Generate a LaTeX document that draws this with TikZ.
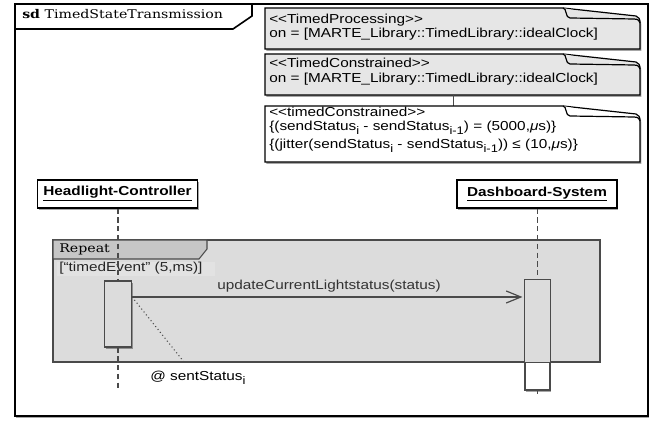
\documentclass[tikz,border=0pt]{standalone}
\usepackage{fontspec}
\setmainfont[FakeStretch=1.18,Ligatures=TeXOff]{Liberation Sans}
\newfontfamily\titleserif[FakeStretch=1.18]{DejaVu Serif}
\usetikzlibrary{shadows,arrows.meta}

\definecolor{notegray}{HTML}{E6E6E6}
\definecolor{fraggray}{HTML}{DCDCDC}
\definecolor{guardgray}{HTML}{E2E2E2}
\definecolor{tabgray}{HTML}{C6C6C6}
\definecolor{linegray}{HTML}{4A4A4A}

% lowered index in the note and label texts
\newcommand\idx[1]{\raisebox{-0.55ex}{\fontsize{8.25pt}{9pt}\selectfont #1}}

\tikzset{
  shad/.style={drop shadow={shadow xshift=1pt,shadow yshift=-1.5pt,opacity=0.35,fill=black}},
  txt/.style={inner sep=0pt,anchor=base west,font=\fontsize{9.75pt}{11pt}\selectfont},
  serif/.style={inner sep=0pt,anchor=base west,font=\titleserif\fontsize{9pt}{11pt}\selectfont},
  lifebox/.style={draw=black,fill=white,line width=0.8pt,shad,minimum width=120pt,minimum height=21pt,inner sep=0pt,
    font=\fontsize{9.75pt}{11pt}\selectfont\bfseries},
  actbar/.style={draw=linegray,line width=0.8pt,shad,inner sep=0pt},
  lifeline/.style={draw=linegray,line width=0.9pt,dash pattern=on 4pt off 2.6pt},
  msg/.style={draw=linegray,line width=0.9pt,-{Straight Barb[length=11pt,width=9pt,line width=0.9pt]},shorten >=1.5pt},
  notefold/.style={draw=black,line width=0.9pt},
}

% note with a curled top-right corner: top y, bottom y, fill colour
\newcommand\umlnote[3]{%
  \filldraw[fill=#3,notefold,shad] (265,#2) -- (265,#1) -- (563,#1) -- (636,#1+8)
    .. controls (639,#1+9) and (640,#1+11) .. (640,#1+15) -- (640,#2) -- cycle;
  \filldraw[fill=#3,notefold] (563,#1) .. controls (567,#1) and (565,#1+10) .. (570,#1+10)
    -- (634,#1+11) .. controls (638,#1+11) and (640,#1+13) .. (640,#1+15);
}

\begin{document}
\begin{tikzpicture}[x=0.75pt,y=-0.75pt]
\useasboundingbox (0,0) rectangle (664,423);

% diagram frame and its name tab
\filldraw[fill=white,draw=black,line width=1.5pt,shad] (15,4) rectangle (648,416);
\draw[line width=1.2pt] (15,29) -- (233,29) -- (252,16) -- (252,4);
\node[serif] (title) at (22,19) {\textbf{sd} TimedStateTransmission};

% constraint notes
\umlnote{8}{49}{notegray}
\node[txt] (n1a) at (269,24) {<<TimedProcessing>>};
\node[txt] (n1b) at (269,38) {on = [MARTE\_Library::TimedLibrary::idealClock]};

\umlnote{54}{95}{notegray}
\node[txt] (n2a) at (269,68) {<<TimedConstrained>>};
\node[txt] (n2b) at (269,83) {on = [MARTE\_Library::TimedLibrary::idealClock]};

\coordinate (n2bot) at (453,95);
\coordinate (n3top) at (453,106);
\draw[linegray,line width=0.6pt] (n2bot) -- (n3top);

\umlnote{106}{162}{white}
\node[txt] (n3a) at (269,117) {<<timedConstrained>>};
\node[txt] (n3b) at (269,131) {\{(sendStatus\idx{i} - sendStatus\idx{i-1}) = (5000,{\itshape μ}s)\}};
\node[txt] (n3c) at (269,149) {\{(jitter(sendStatus\idx{i} - sendStatus\idx{i-1})) ≤ (10,{\itshape μ}s)\}};

% lifeline heads
\node[lifebox] (hc) at (117.5,194) {\underline{Headlight-Controller}};
\node[lifebox] (ds) at (537,194) {\underline{Dashboard-System}};

% repeat fragment
\node[draw=linegray,fill=fraggray,line width=0.8pt,minimum width=410.25pt,minimum height=91.5pt,inner sep=0pt]
  (frag) at (326.5,301) {};
\filldraw[fill=tabgray,draw=linegray,line width=0.8pt]
  (53,240) -- (207,240) -- (207,249) -- (199,259) -- (53,259) -- cycle;
\node[serif] (rep) at (59,253) {Repeat};
\fill[guardgray] (57,262) rectangle (215,276);
\node[txt,text=black!85] (guard) at (59,272) {[“timedEvent” (5,ms)]};

% activation bars
\node[actbar,fill=fraggray,minimum width=20.25pt,minimum height=49.5pt] (a1) at (118,314) {};
\node[actbar,fill=white,minimum width=18.75pt,minimum height=82.5pt] (a2) at (537.5,335) {};
\fill[fraggray] (a2.north west) rectangle (a2.east |- frag.south);
\draw[linegray,line width=0.8pt] (a2.north west) rectangle (a2.south east);
\draw[linegray,line width=0.8pt] (a2.west |- frag.south) -- (frag.south east);

% lifelines
\coordinate (hcend) at (118,390);
\coordinate (dsend) at (537.5,394);
\draw[lifeline] (hc.south -| a1.north) -- (a1.north);
\draw[lifeline] (a1.south) -- (hcend);
\draw[lifeline] (ds.south -| a2.north) -- (a2.north);
\draw[linegray,line width=0.8pt] (a2.south) -- (dsend);

% message and its timing observation
\coordinate (snd) at (a1.east |- 0,297);
\coordinate (rcv) at (a2.west |- 0,297);
\draw[msg] (snd) -- (rcv);
\node[txt,text=black!80] (lbl) at (217,290) {updateCurrentLightstatus(status)};
\coordinate (obs) at (184,362);
\draw[linegray,line width=0.8pt,dotted] (snd) -- (obs);
\node[txt] (tobs) at (150,381) {@ sentStatus\idx{i}};
\end{tikzpicture}
\end{document}
